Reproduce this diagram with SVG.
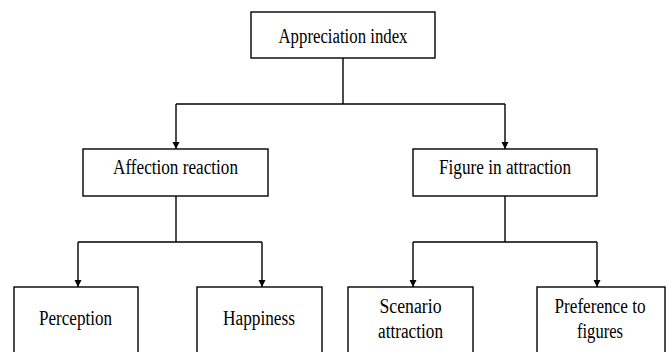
<svg xmlns="http://www.w3.org/2000/svg" width="666" height="352" viewBox="0 0 666 352">
<style>
.box{fill:#fff;stroke:#000;stroke-width:1.4}
.t{font-family:"Liberation Serif","Times New Roman",serif;font-size:20px;fill:#000;text-anchor:middle}
.c{fill:none;stroke:#000;stroke-width:1.4}
</style>
<defs>
<marker id="arr" markerUnits="userSpaceOnUse" markerWidth="8" markerHeight="8" refX="7" refY="3.5" orient="auto">
<path d="M0,0 L7,3.5 L0,7 z" fill="#000"/>
</marker>
</defs>
<rect width="666" height="352" fill="#fff"/>
<g id="connectors">
<path class="c" d="M343,58 V104"/>
<path class="c" d="M176,104 H505"/>
<path class="c" d="M176,104 V149" marker-end="url(#arr)"/>
<path class="c" d="M505,104 V149" marker-end="url(#arr)"/>
<path class="c" d="M176,196 V242"/>
<path class="c" d="M78,242 H262"/>
<path class="c" d="M78,242 V287" marker-end="url(#arr)"/>
<path class="c" d="M262,242 V287" marker-end="url(#arr)"/>
<path class="c" d="M505,196 V242"/>
<path class="c" d="M413,242 H597"/>
<path class="c" d="M413,242 V287" marker-end="url(#arr)"/>
<path class="c" d="M597,242 V287" marker-end="url(#arr)"/>
</g>
<g id="appreciation-index">
<rect class="box" x="251" y="12" width="184" height="46"/>
<text class="t" x="343" y="43" textLength="129" lengthAdjust="spacingAndGlyphs">Appreciation index</text>
</g>
<g id="affection-reaction">
<rect class="box" x="83" y="149" width="185" height="47"/>
<text class="t" x="175.5" y="174" textLength="125" lengthAdjust="spacingAndGlyphs">Affection reaction</text>
</g>
<g id="figure-in-attraction">
<rect class="box" x="413" y="149" width="184" height="47"/>
<text class="t" x="505" y="174" textLength="132" lengthAdjust="spacingAndGlyphs">Figure in attraction</text>
</g>
<g id="perception">
<rect class="box" x="14" y="287" width="124" height="80"/>
<text class="t" x="75.5" y="325" textLength="73" lengthAdjust="spacingAndGlyphs">Perception</text>
</g>
<g id="happiness">
<rect class="box" x="197" y="287" width="125" height="80"/>
<text class="t" x="259" y="325" textLength="72" lengthAdjust="spacingAndGlyphs">Happiness</text>
</g>
<g id="scenario-attraction">
<rect class="box" x="348" y="287" width="125" height="80"/>
<text class="t" x="410.5" y="313" textLength="62" lengthAdjust="spacingAndGlyphs">Scenario</text>
<text class="t" x="410.5" y="338" textLength="65" lengthAdjust="spacingAndGlyphs">attraction</text>
</g>
<g id="preference-to-figures">
<rect class="box" x="537" y="287" width="128" height="80"/>
<text class="t" x="600" y="313" textLength="91" lengthAdjust="spacingAndGlyphs">Preference to</text>
<text class="t" x="600" y="338" textLength="46" lengthAdjust="spacingAndGlyphs">figures</text>
</g>
</svg>
